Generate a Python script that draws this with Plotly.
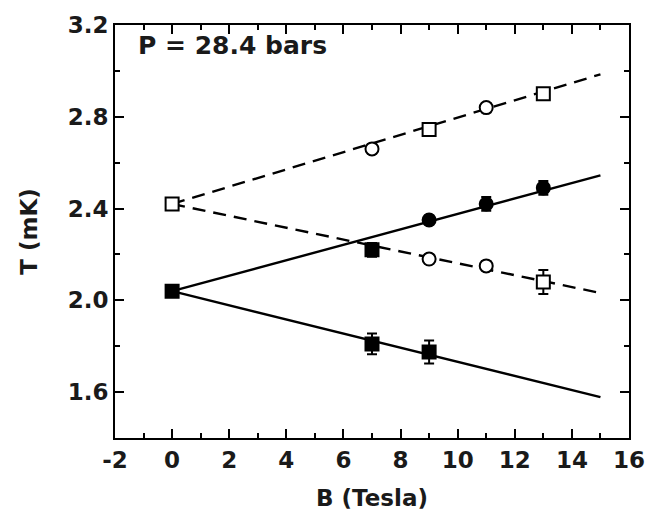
import plotly.graph_objects as go

# Field values (Tesla) and transition temperatures (mK)
b_solid_upper = [0, 7, 9, 11, 13]
t_solid_upper = [2.04, 2.22, 2.35, 2.42, 2.49]
e_solid_upper = [0.02, 0.03, 0.02, 0.03, 0.03]
sym_solid_upper = ["square", "square", "circle", "circle", "circle"]

b_solid_lower = [7, 9]
t_solid_lower = [1.81, 1.775]
e_solid_lower = [0.045, 0.05]
sym_solid_lower = ["square", "square"]

b_open_upper = [0, 7, 9, 11, 13]
t_open_upper = [2.42, 2.66, 2.745, 2.84, 2.90]
e_open_upper = [0.02, 0.02, 0.02, 0.02, 0.02]
sym_open_upper = ["square", "circle", "square", "circle", "square"]

b_open_lower = [9, 11, 13]
t_open_lower = [2.18, 2.15, 2.08]
e_open_lower = [0.02, 0.02, 0.052]
sym_open_lower = ["circle", "circle", "square"]

# Linear fits drawn from B = 0 to 15 T
fit_b = [0, 15]
fit_solid_upper = [2.04, 2.545]
fit_solid_lower = [2.04, 1.578]
fit_dash_upper = [2.42, 2.985]
fit_dash_lower = [2.42, 2.032]

x_ticks = [-2, 0, 2, 4, 6, 8, 10, 12, 14, 16]
y_ticks = [1.6, 2.0, 2.4, 2.8, 3.2]

fig = go.Figure()

for ys in (fit_solid_upper, fit_solid_lower):
    fig.add_trace(go.Scatter(x=fit_b, y=ys, mode="lines",
                             line=dict(color="black", width=2.4),
                             showlegend=False, hoverinfo="skip"))
for ys in (fit_dash_upper, fit_dash_lower):
    fig.add_trace(go.Scatter(x=fit_b, y=ys, mode="lines",
                             line=dict(color="black", width=2.4, dash="13px,8px"),
                             showlegend=False, hoverinfo="skip"))


def add_points(bx, ty, err, syms, filled):
    fig.add_trace(go.Scatter(
        x=bx, y=ty, mode="markers",
        error_y=dict(type="data", array=err, color="black", thickness=2, width=5),
        marker=dict(symbol=syms, size=13,
                    color="black" if filled else "white",
                    line=dict(color="black", width=2)),
        showlegend=False))


add_points(b_solid_upper, t_solid_upper, e_solid_upper, sym_solid_upper, True)
add_points(b_solid_lower, t_solid_lower, e_solid_lower, sym_solid_lower, True)
add_points(b_open_upper, t_open_upper, e_open_upper, sym_open_upper, False)
add_points(b_open_lower, t_open_lower, e_open_lower, sym_open_lower, False)

FONT = "DejaVu Sans, Liberation Sans, Arial, sans-serif"
axis_font = dict(family=FONT, size=23, color="#1a1a1a", weight="bold")

fig.add_annotation(x=-1.25, y=3.11, xref="x", yref="y", text="P = 28.4 bars",
                   showarrow=False, xanchor="left", yanchor="middle",
                   font=dict(family=FONT, size=25, color="#1a1a1a", weight="bold"))

fig.update_xaxes(
    range=[-2, 16], tickvals=x_ticks, ticktext=[str(v) for v in x_ticks],
    ticks="inside", ticklen=9, tickwidth=2, tickcolor="black",
    minor=dict(dtick=1, ticks="inside", ticklen=5, tickwidth=2, tickcolor="black"),
    showline=True, linecolor="black", linewidth=2, mirror="allticks",
    showgrid=False, zeroline=False, tickfont=axis_font,
    title=dict(text="B (Tesla)", font=axis_font, standoff=18))
fig.update_yaxes(
    range=[1.4, 3.2], tickvals=y_ticks, ticktext=["%.1f" % v for v in y_ticks],
    ticks="inside", ticklen=9, tickwidth=2, tickcolor="black",
    minor=dict(dtick=0.2, ticks="inside", ticklen=5, tickwidth=2, tickcolor="black"),
    showline=True, linecolor="black", linewidth=2, mirror="allticks",
    showgrid=False, zeroline=False, tickfont=axis_font,
    title=dict(text="T (mK)", font=axis_font, standoff=24))

fig.update_layout(
    width=657, height=523,
    margin=dict(l=115, r=28, t=22, b=85),
    plot_bgcolor="white", paper_bgcolor="white",
)

fig.write_html("out.html")
